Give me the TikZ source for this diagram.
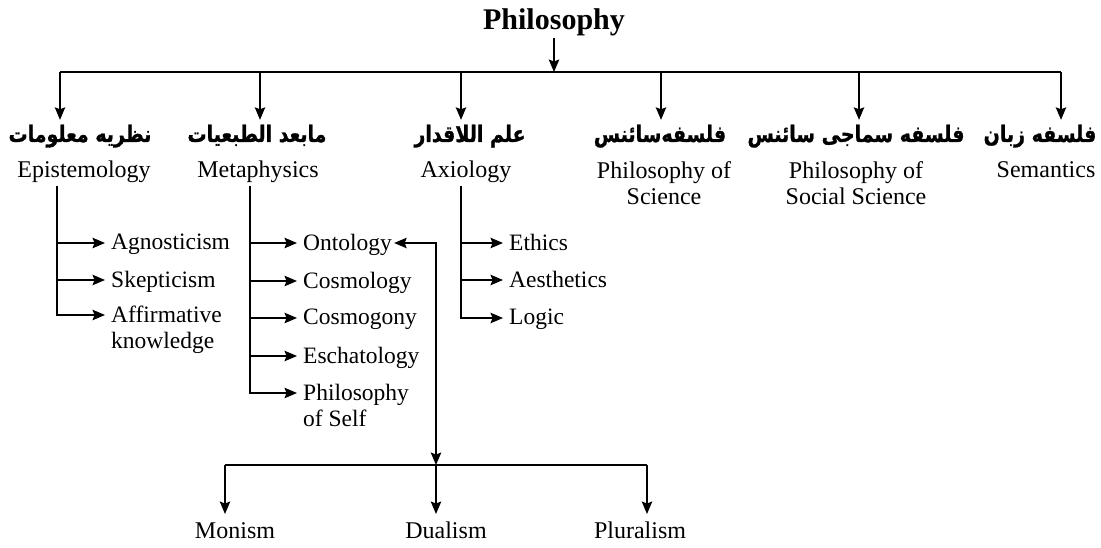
\documentclass[tikz,border=0pt]{standalone}
\usepackage{fontspec}
\setmainfont{Liberation Serif}
\newfontfamily\arabicfont{DejaVu Sans}[Script=Arabic, BoldFont=DejaVu Sans Bold, BoldFeatures={FakeBold=1.2}]
\usetikzlibrary{arrows.meta}
\TeXXeTstate=1
\newcommand{\fatext}[1]{\scalebox{1}[1.2]{\beginR #1\endR}}
\begin{document}
\begin{tikzpicture}[x=1pt,y=-1pt,
  tip/.tip={Stealth[length=12.5pt,width=10.5pt,inset=2pt]},
  arr/.style={-tip, line width=1.2pt},
  dbl/.style={tip-tip, line width=1.2pt},
  ln/.style={line width=1.2pt},
  fa/.style={font=\arabicfont\bfseries\fontsize{19}{23}\selectfont, anchor=base, inner sep=0pt, text height=22pt, text depth=8pt},
  en/.style={font=\fontsize{24}{26}\selectfont, anchor=north, inner sep=0pt, align=center},
  sub/.style={font=\fontsize{23.5}{26}\selectfont, anchor=north west, inner xsep=6pt, inner ysep=0pt, align=left},
  bot/.style={font=\fontsize{24}{26}\selectfont, anchor=north, inner sep=0pt},
]
\useasboundingbox (0,0) rectangle (1101,548);

% root
\node[font=\bfseries\fontsize{30}{32}\selectfont, inner sep=2pt] (phil) at (554,22) {Philosophy};
\coordinate (bc) at (554,72);
\coordinate (b1) at (60,72);
\coordinate (b2) at (260,72);
\coordinate (b3) at (461,72);
\coordinate (b4) at (661,72);
\coordinate (b5) at (859,72);
\coordinate (b6) at (1061,72);
\draw[arr] (phil) -- (bc);
\draw[ln] (b1) -- (b6);

% headings
\node[fa] (fa1) at (80,142) {\fatext{نظریه معلومات}};
\node[fa] (fa2) at (257,142) {\fatext{مابعد الطبعیات}};
\node[fa] (fa3) at (470,142) {\fatext{علم اللاقدار}};
\node[fa] (fa4) at (660,142) {\fatext{فلسفه‌سائنس}};
\node[fa] (fa5) at (856,142) {\fatext{فلسفه سماجی سائنس}};
\node[fa] (fa6) at (1040,142) {\fatext{فلسفه زبان}};
\foreach \i in {1,...,6} \draw[arr] (b\i) -- (b\i |- fa\i.north);

\node[en] (en1) at (84,161) {Epistemology};
\node[en] (en2) at (258,161) {Metaphysics};
\node[en] (en3) at (466,161) {Axiology};
\node[en] (en4) at (664,161) {Philosophy of\\Science};
\node[en] (en5) at (856,161) {Philosophy of\\Social Science};
\node[en] (en6) at (1046,161) {Semantics};

% Epistemology branch
\coordinate (v1) at (57,186);
\node[sub] (agn) at (105,234) {Agnosticism};
\node[sub] (ske) at (105,271) {Skepticism};
\node[sub] (aff) at (105,306) {Affirmative\\knowledge};
\foreach \n in {agn,ske,aff} \draw[arr] (v1) |- ([yshift=-9pt]\n.north west);

% Metaphysics branch
\coordinate (v2) at (250,186);
\node[sub] (ont) at (297,234) {Ontology};
\node[sub] (cos) at (297,272) {Cosmology};
\node[sub] (cog) at (297,309) {Cosmogony};
\node[sub] (esc) at (297,347) {Eschatology};
\node[sub] (pos) at (297,384) {Philosophy\\of Self};
\foreach \n in {ont,cos,cog,esc,pos} \draw[arr] (v2) |- ([yshift=-9pt]\n.north west);

% Axiology branch
\coordinate (v3) at (461,186);
\node[sub] (eth) at (503,234) {Ethics};
\node[sub] (aes) at (503,271) {Aesthetics};
\node[sub] (log) at (503,309) {Logic};
\foreach \n in {eth,aes,log} \draw[arr] (v3) |- ([yshift=-9pt]\n.north west);

% Ontology to the three views
\coordinate (mc) at (436,465);
\coordinate (ml) at (225,465);
\coordinate (mr) at (647,465);
\draw[dbl] ([yshift=-9pt,xshift=-4pt]ont.north east) -| (mc);
\draw[ln] (ml) -- (mr);
\node[bot] (mon) at (235,522) {Monism};
\node[bot] (dua) at (446,522) {Dualism};
\node[bot] (plu) at (640,522) {Pluralism};
\draw[arr] (ml) -- ([yshift=8pt]ml |- mon.north);
\draw[arr] (mc) -- ([yshift=8pt]mc |- dua.north);
\draw[arr] (mr) -- ([yshift=8pt]mr |- plu.north);
\end{tikzpicture}
\end{document}
